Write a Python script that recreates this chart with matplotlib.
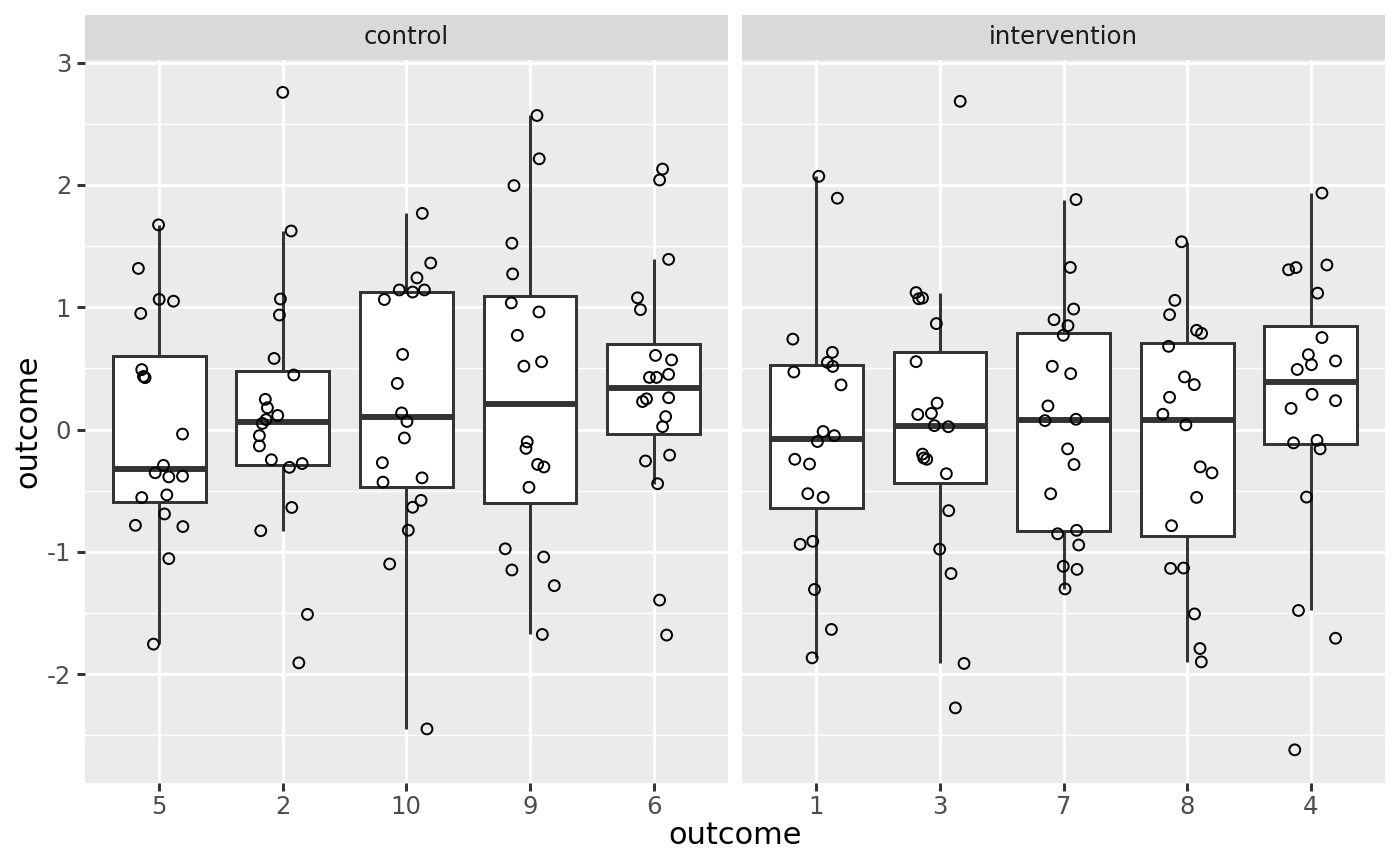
import matplotlib
matplotlib.use("Agg")
import matplotlib.pyplot as plt
import numpy as np

plt.rcParams['font.family'] = ['DejaVu Sans']
plt.rcParams['axes.unicode_minus'] = False

# ---- data ----
control_clusters = ["5", "2", "10", "9", "6"]
intervention_clusters = ["1", "3", "7", "8", "4"]
facet_names = ["control", "intervention"]

v5 = [1.673, 1.317, 1.064, 1.049, 0.949, 0.490, 0.434, 0.424, -0.037, -0.293,
      -0.353, -0.387, -0.381, -0.556, -0.534, -0.690, -0.783, -0.793, -1.055, -1.754]
j5 = [-0.005, -0.168, 0.0, 0.116, -0.149, -0.141, -0.127, -0.114, 0.189, 0.035,
      -0.032, 0.078, 0.189, -0.141, 0.062, 0.043, -0.192, 0.192, 0.078, -0.046]

v2 = [2.756, 1.623, 1.067, 0.936, 0.581, 0.446, 0.247, 0.178, 0.115, 0.081,
      0.050, -0.050, -0.134, -0.247, -0.309, -0.278, -0.637, -0.827, -1.511, -1.907]
j2 = [0.0, 0.068, -0.019, -0.027, -0.070, 0.089, -0.141, -0.124, -0.041, -0.135,
      -0.165, -0.189, -0.189, -0.092, 0.054, 0.157, 0.073, -0.178, 0.2, 0.130]

v10 = [1.767, 1.361, 1.240, 1.141, 1.124, 1.141, 1.063, 0.614, 0.377, 0.136,
       0.066, -0.069, -0.271, -0.430, -0.395, -0.579, -0.635, -0.823, -1.099, -2.447]
j10 = [0.129, 0.197, 0.086, -0.057, 0.051, 0.146, -0.178, -0.030, -0.073, -0.038,
       0.005, -0.016, -0.194, -0.189, 0.127, 0.119, 0.051, 0.016, -0.135, 0.167]

v9 = [2.567, 2.213, 1.994, 1.523, 1.272, 1.035, 0.961, 0.770, 0.518, 0.554,
      -0.101, -0.154, -0.285, -0.306, -0.472, -0.975, -1.148, -1.042, -1.276, -1.675]
j9 = [0.057, 0.075, -0.129, -0.146, -0.140, -0.151, 0.073, -0.102, -0.049, 0.094,
      -0.022, -0.032, 0.062, 0.113, -0.008, -0.2, -0.146, 0.111, 0.197, 0.1]

v6 = [2.129, 2.040, 1.391, 1.077, 0.980, 0.606, 0.569, 0.451, 0.426, 0.426,
      0.260, 0.251, 0.229, 0.106, 0.023, -0.257, -0.209, -0.443, -1.394, -1.680]
j6 = [0.073, 0.049, 0.122, -0.130, -0.106, 0.016, 0.146, 0.122, -0.033, 0.024,
      0.122, -0.057, -0.089, 0.098, 0.073, -0.065, 0.130, 0.033, 0.049, 0.106]

v1 = [2.070, 1.891, 0.739, 0.631, 0.549, 0.516, 0.470, 0.365, -0.016, -0.050,
      -0.098, -0.243, -0.282, -0.524, -0.554, -0.938, -0.914, -1.307, -1.634, -1.866]
j1 = [0.019, 0.169, -0.191, 0.129, 0.089, 0.132, -0.183, 0.199, 0.054, 0.145,
      0.008, -0.175, -0.056, -0.070, 0.054, -0.132, -0.030, -0.016, 0.121, -0.035]

v3 = [2.683, 1.120, 1.069, 1.075, 0.866, 0.555, 0.216, 0.132, 0.123, 0.032,
      0.023, -0.201, -0.232, -0.243, -0.361, -0.663, -0.978, -1.177, -1.912, -2.275]
j3 = [0.163, -0.194, -0.172, -0.142, -0.030, -0.194, -0.024, -0.070, -0.180, -0.046,
      0.067, -0.142, -0.132, -0.108, 0.051, 0.070, -0.003, 0.089, 0.194, 0.124]

v7 = [1.880, 1.325, 0.985, 0.898, 0.849, 0.770, 0.517, 0.457, 0.193, 0.073,
      0.084, -0.158, -0.286, -0.525, -0.852, -0.824, -0.944, -1.118, -1.143, -1.303]
j7 = [0.1, 0.054, 0.081, -0.078, 0.035, -0.003, -0.092, 0.057, -0.127, -0.151,
      0.1, 0.032, 0.084, -0.105, -0.049, 0.105, 0.122, -0.003, 0.108, 0.011]

v8 = [1.535, 1.056, 0.939, 0.811, 0.786, 0.680, 0.430, 0.367, 0.264, 0.125,
      0.038, -0.305, -0.354, -0.555, -0.786, -1.135, -1.132, -1.507, -1.790, -1.899]
j8 = [-0.046, -0.100, -0.143, 0.076, 0.116, -0.151, -0.022, 0.057, -0.143, -0.197,
      -0.011, 0.105, 0.2, 0.076, -0.127, -0.135, -0.030, 0.059, 0.103, 0.114]

v4 = [1.933, 1.306, 1.324, 1.345, 1.115, 0.752, 0.612, 0.561, 0.530, 0.491,
      0.288, 0.236, 0.173, -0.109, -0.088, -0.158, -0.552, -1.479, -1.706, -2.618]
j4 = [0.09, -0.18, -0.12, 0.13, 0.055, 0.09, -0.02, 0.2, 0.005, -0.11,
      0.01, 0.2, -0.16, -0.14, 0.05, 0.075, -0.035, -0.1, 0.2, -0.13]

y_ticks = [-2, -1, 0, 1, 2, 3]
y_tick_labels = ["-2", "-1", "0", "1", "2", "3"]
y_minor = [-2.5, -1.5, -0.5, 0.5, 1.5, 2.5]

control_values = [v5, v2, v10, v9, v6]
control_jitter = [j5, j2, j10, j9, j6]
intervention_values = [v1, v3, v7, v8, v4]
intervention_jitter = [j1, j3, j7, j8, j4]

# ---- style ----
W, H = 1400, 866
fig = plt.figure(figsize=(W / 100, H / 100), dpi=100)
fig.patch.set_facecolor("white")

panel_bg = "#EBEBEB"
strip_bg = "#D9D9D9"
grey20 = "#333333"
grey30 = "#4D4D4D"
grey10 = "#1A1A1A"

all_vals = np.concatenate([np.array(v) for v in control_values + intervention_values])
lo, hi = all_vals.min(), all_vals.max()
pad = 0.05 * (hi - lo)
ylim = (lo - pad, hi + pad)

panel_bottom = 1 - 782.7 / H
panel_top = 1 - 59.5 / H
strip_top = 1 - 15 / H
lefts = [85 / W, 742.3 / W]
rights = [727.7 / W, 1385 / W]

facets = [
    (control_clusters, control_values, control_jitter),
    (intervention_clusters, intervention_values, intervention_jitter),
]

for k, (labels, values, jit) in enumerate(facets):
    ax = fig.add_axes([lefts[k], panel_bottom, rights[k] - lefts[k], panel_top - panel_bottom])
    ax.set_facecolor(panel_bg)
    for s in ax.spines.values():
        s.set_visible(False)
    n = len(labels)
    pos = np.arange(n)
    ax.set_xlim(-0.6, n - 1 + 0.6)
    ax.set_ylim(*ylim)

    # grid
    for yv in y_minor:
        ax.axhline(yv, color="white", lw=1.07, zorder=0.5)
    for yv in y_ticks:
        ax.axhline(yv, color="white", lw=2.13, zorder=0.6)
    for xv in pos:
        ax.axvline(xv, color="white", lw=2.13, zorder=0.6)

    ax.boxplot(values, positions=pos, widths=0.75, whis=1.5, showfliers=False,
               patch_artist=True, showcaps=False,
               boxprops=dict(facecolor="white", edgecolor=grey20, linewidth=2.13),
               whiskerprops=dict(color=grey20, linewidth=2.13, solid_capstyle="butt"),
               medianprops=dict(color=grey20, linewidth=4.26, solid_capstyle="butt"),
               zorder=2)

    for i in range(n):
        xs = pos[i] + np.array(jit[i])
        ax.scatter(xs, values[i], s=7.8 ** 2, facecolors="none",
                   edgecolors="black", linewidths=1.42, zorder=3)

    ax.set_xticks(pos)
    ax.set_xticklabels(labels)
    ax.tick_params(axis="x", length=5.5, width=2.13, color=grey20,
                   labelcolor=grey30, labelsize=17.6, pad=3)
    if k == 0:
        ax.set_yticks(y_ticks)
        ax.set_yticklabels(y_tick_labels)
        ax.tick_params(axis="y", length=5.5, width=2.13, color=grey20,
                       labelcolor=grey30, labelsize=17.6, pad=4.4)
    else:
        ax.set_yticks([])
    ax.minorticks_off()

    # strip
    sax = fig.add_axes([lefts[k], panel_top, rights[k] - lefts[k], strip_top - panel_top])
    sax.set_facecolor(strip_bg)
    for s in sax.spines.values():
        s.set_visible(False)
    sax.set_xticks([])
    sax.set_yticks([])
    sax.text(0.5, 0.5, facet_names[k], ha="center", va="center",
             fontsize=17.6, color=grey10, transform=sax.transAxes)

fig.text((85 + 1385) / 2 / W, 1 - 836 / H, "outcome", ha="center", va="center",
         fontsize=22, color="black")
fig.text(28 / W, (panel_top + panel_bottom) / 2, "outcome", ha="center", va="center",
         rotation=90, fontsize=22, color="black")

fig.savefig("out.png", dpi=100)
